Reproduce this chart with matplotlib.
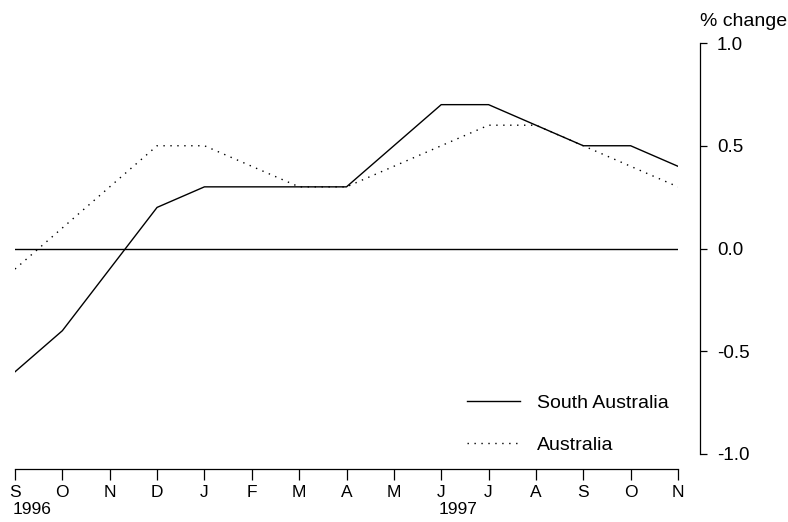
import matplotlib
matplotlib.use("Agg")
import matplotlib.pyplot as plt
import matplotlib.transforms as mtransforms

months = ["S", "O", "N", "D", "J", "F", "M", "A", "M", "J", "J", "A", "S", "O", "N"]
years = ["1996", "1997"]
year_start_idx = [0, 9]
south_australia = [-0.6, -0.4, -0.1, 0.2, 0.3, 0.3, 0.3, 0.3, 0.5, 0.7, 0.7, 0.6, 0.5, 0.5, 0.4]
australia = [-0.1, 0.1, 0.3, 0.5, 0.5, 0.4, 0.3, 0.3, 0.4, 0.5, 0.6, 0.6, 0.5, 0.4, 0.3]
y_ticks = [-1.0, -0.5, 0.0, 0.5, 1.0]

plt.rcParams["font.family"] = ["Liberation Sans", "DejaVu Sans"]

fig = plt.figure(figsize=(7.88, 5.22), dpi=100)
ax = fig.add_axes([15 / 788, (522 - 454) / 522, (678 - 15) / 788, (454 - 43) / 522])

x = list(range(len(months)))
ax.plot(x, south_australia, color="black", lw=1.0, label="South Australia")
ax.plot(x, australia, color="black", lw=1.0, linestyle=(0, (1, 4)), label="Australia")
ax.axhline(0, color="black", lw=1.0)

ax.set_xlim(0, len(months) - 1)
ax.set_ylim(-1, 1)

for s in ["left", "top"]:
    ax.spines[s].set_visible(False)
ax.spines["right"].set_position(("outward", 16))
ax.spines["bottom"].set_position(("outward", 11))
ax.spines["right"].set_linewidth(0.9)
ax.spines["bottom"].set_linewidth(0.9)

ax.yaxis.tick_right()
ax.set_yticks(y_ticks)
ax.set_yticklabels([f"{v:.1f}" for v in y_ticks])
ax.tick_params(axis="y", direction="out", length=5, width=0.9, pad=7, labelsize=13.5)
ax.set_xticks(x)
ax.set_xticklabels(months)
ax.tick_params(axis="x", direction="out", length=8, width=0.9, pad=3, labelsize=12.5)

trans = mtransforms.blended_transform_factory(ax.transData, fig.transFigure)
for yr, idx in zip(years, year_start_idx):
    ax.text(idx - 0.05, (522 - 509) / 522, yr, transform=trans, ha="left", va="center", fontsize=12.5)

fig.text(700 / 788, (522 - 21) / 522, "% change", ha="left", va="center", fontsize=14)

ax.legend(loc="upper left", bbox_to_anchor=(467 / 788, (522 - 394) / 522),
          bbox_transform=fig.transFigure, frameon=False, handlelength=2.7,
          fontsize=14, labelspacing=1.25, handletextpad=0.9, borderpad=0, borderaxespad=0)

fig.savefig("out.png", dpi=100)
